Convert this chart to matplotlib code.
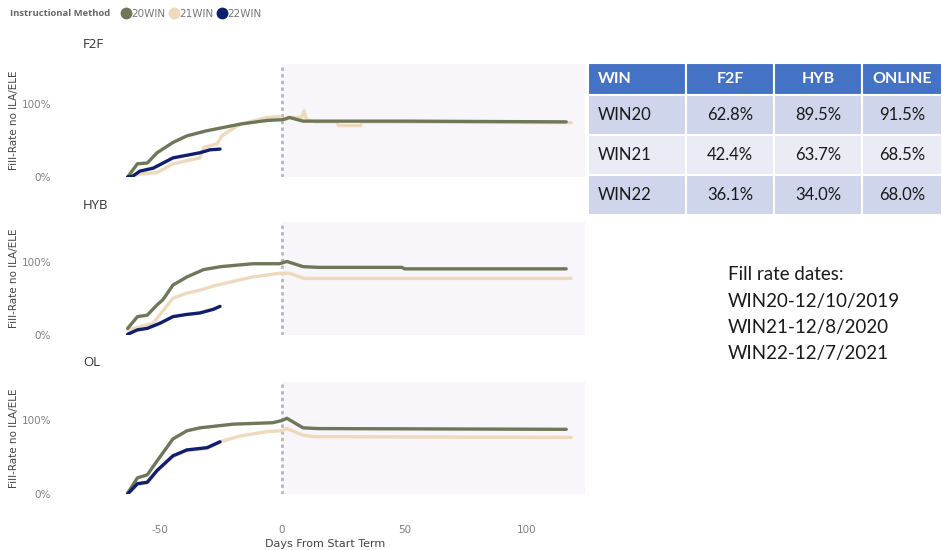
import matplotlib.pyplot as plt
from matplotlib.lines import Line2D
from matplotlib.patches import Rectangle

# colours
c20 = '#6f7759'
c21 = '#efd9bd'
c22 = '#0f1f6e'

terms = ['20WIN', '21WIN', '22WIN']
panels = ['F2F', 'HYB', 'OL']

# F2F
f2f_20_days = [-63, -59, -55, -51, -44.5, -38.8, -30.6, -20, -17, -6, 0.4, 3, 8.6, 50, 116]
f2f_20_vals = [0, 0.18, 0.19, 0.33, 0.47, 0.56, 0.63, 0.70, 0.72, 0.77, 0.78, 0.81, 0.76, 0.76, 0.75]
f2f_21_days = [-63, -58, -51, -44.5, -33.5, -32, -26.5, -24.5, -20, -17, -6, -1, 0.5, 3, 8, 9, 10, 13.5, 22.5, 23, 32, 32.7, 118]
f2f_21_vals = [0, 0.04, 0.06, 0.18, 0.26, 0.40, 0.45, 0.56, 0.66, 0.72, 0.81, 0.82, 0.77, 0.81, 0.81, 0.90, 0.78, 0.75, 0.75, 0.70, 0.70, 0.75, 0.74]
f2f_22_days = [-63, -61, -58, -52.6, -44.5, -33.5, -29.4, -25.3]
f2f_22_vals = [0, 0.01, 0.08, 0.12, 0.26, 0.33, 0.37, 0.38]

# HYB
hyb_20_days = [-63, -59, -55, -51, -48.6, -44.5, -38.8, -32, -25, -11.8, -1, 2, 8.6, 15, 49, 50, 116]
hyb_20_vals = [0.09, 0.25, 0.27, 0.41, 0.48, 0.68, 0.79, 0.89, 0.93, 0.97, 0.97, 1.00, 0.93, 0.92, 0.92, 0.90, 0.90]
hyb_21_days = [-63, -58, -52.6, -44.5, -38.8, -33.5, -26.5, -20, -11.8, -1, 3, 9, 118]
hyb_21_vals = [0.07, 0.11, 0.16, 0.50, 0.57, 0.61, 0.68, 0.73, 0.79, 0.84, 0.84, 0.77, 0.77]
hyb_22_days = [-63, -59, -55, -49.8, -44.5, -38.8, -33.5, -28, -25.3]
hyb_22_vals = [0.01, 0.07, 0.09, 0.16, 0.25, 0.28, 0.30, 0.35, 0.39]

# OL
ol_20_days = [-63, -59, -55, -51, -44.5, -38.8, -33.5, -20, -3.7, 0, 2, 8.6, 15, 116]
ol_20_vals = [0.01, 0.22, 0.26, 0.45, 0.75, 0.86, 0.90, 0.95, 0.97, 1.00, 1.03, 0.90, 0.89, 0.88]
ol_21_days = [-63, -59, -55, -51, -44.5, -38.8, -30.6, -25.3, -17, -6, 0, 2, 8.6, 13, 118]
ol_21_vals = [0, 0.13, 0.15, 0.31, 0.51, 0.59, 0.62, 0.71, 0.79, 0.85, 0.86, 0.89, 0.80, 0.78, 0.77]
ol_22_days = [-63, -59, -55, -51, -44.5, -38.8, -30.6, -25.3]
ol_22_vals = [0, 0.14, 0.16, 0.32, 0.52, 0.60, 0.63, 0.71]

series_days = [[f2f_20_days, f2f_21_days, f2f_22_days],
               [hyb_20_days, hyb_21_days, hyb_22_days],
               [ol_20_days, ol_21_days, ol_22_days]]
series_vals = [[f2f_20_vals, f2f_21_vals, f2f_22_vals],
               [hyb_20_vals, hyb_21_vals, hyb_22_vals],
               [ol_20_vals, ol_21_vals, ol_22_vals]]

# table
tbl_header = ['WIN', 'F2F', 'HYB', 'ONLINE']
tbl_rows = ['WIN20', 'WIN21', 'WIN22']
tbl_f2f = ['62.8%', '42.4%', '36.1%']
tbl_hyb = ['89.5%', '63.7%', '34.0%']
tbl_online = ['91.5%', '68.5%', '68.0%']

note_lines = ['Fill rate dates:', 'WIN20-12/10/2019', 'WIN21-12/8/2020', 'WIN22-12/7/2021']

W, H = 942, 550
fig = plt.figure(figsize=(9.42, 5.5), dpi=100)
plt.rcParams['font.family'] = ['DejaVu Sans']
plt.rcParams['axes.unicode_minus'] = False

def fx(px):
    return px / W

def fy(py):
    return 1 - py / H

# axes pixel boxes (top, bottom)
boxes = [(64, 177), (222, 335), (382, 494)]
title_y = [45, 205, 363]
xlim = ((65 - 282) / 2.45, (585 - 282) / 2.45)
cols = [c20, c21, c22]

for i, (top, bot) in enumerate(boxes):
    ax = fig.add_axes([fx(65), fy(bot), fx(520), (bot - top) / H])
    ax.set_xlim(xlim)
    ax.set_ylim(0, (bot - top) / 73.5)
    ax.axvspan(0, xlim[1], color='#f8f6fa', zorder=0, lw=0)
    ax.axvline(0, color='#b8b8b8', ls=(0, (1.2, 1.2)), lw=2, zorder=1)
    for j in [1, 0, 2]:
        ax.plot(series_days[i][j], series_vals[i][j], color=cols[j], lw=2.4,
                solid_capstyle='round', zorder=3)
    for s in ax.spines.values():
        s.set_visible(False)
    ax.set_yticks([0, 1])
    ax.set_yticklabels(['0%', '100%'])
    ax.tick_params(axis='y', length=0, labelsize=7.5, labelcolor='#808080', pad=10)
    ax.set_ylabel('Fill-Rate no ILA/ELE', fontsize=7.5, color='#444444', labelpad=10)
    ax.yaxis.set_label_coords(-0.088, 0.5)
    if i < 2:
        ax.set_xticks([])
    else:
        ax.set_xticks([-50, 0, 50, 100])
        ax.tick_params(axis='x', length=0, labelsize=7.5, labelcolor='#808080', pad=22)
        ax.set_xlabel('Days From Start Term', fontsize=8, color='#444444', labelpad=3)
    fig.text(fx(83), fy(title_y[i]), panels[i], fontsize=9.5, color='#333333', va='center',
             family=['Open Sans', 'DejaVu Sans'])

# legend
fig.text(fx(10), fy(14), 'Instructional Method', fontsize=6.8, fontweight='bold',
         color='#666666', va='center', family=['Open Sans', 'DejaVu Sans'])
handles = [Line2D([], [], ls='', marker='o', ms=7.5, color=c) for c in cols]
fig.legend(handles, terms, loc='center left', bbox_to_anchor=(fx(115), fy(14)), ncol=3,
           frameon=False, fontsize=7.5, handletextpad=-0.1, columnspacing=0.2,
           handlelength=1.2, borderpad=0, labelcolor='#777777')

# table
tax = fig.add_axes([0, 0, 1, 1])
tax.set_xlim(0, W)
tax.set_ylim(H, 0)
tax.axis('off')
col_edges = [588, 686, 774, 862, 942]
row_edges = [63, 95, 135, 175, 215]
fills = ['#4472c4', '#cfd5ea', '#e9ebf5', '#cfd5ea']
cells = [tbl_header] + [[tbl_rows[k], tbl_f2f[k], tbl_hyb[k], tbl_online[k]] for k in range(3)]
for r in range(4):
    for c in range(4):
        x0, x1 = col_edges[c], col_edges[c + 1]
        y0, y1 = row_edges[r], row_edges[r + 1]
        tax.add_patch(Rectangle((x0, y0), x1 - x0, y1 - y0, facecolor=fills[r],
                                edgecolor='white', lw=1.5))
        if c == 0:
            tx, ha = x0 + 10, 'left'
        else:
            tx, ha = (x0 + x1) / 2, 'center'
        tax.text(tx, (y0 + y1) / 2, cells[r][c], ha=ha, va='center',
                 fontsize=11.5 if r == 0 else 12,
                 fontweight='bold' if r == 0 else 'normal',
                 color='white' if r == 0 else '#1a1a1a', family=['Lato', 'DejaVu Sans'])

for k, line in enumerate(note_lines):
    tax.text(728, 275 + 26 * k, line, ha='left', va='center', fontsize=13.5,
             color='#1a1a1a', family=['Lato', 'DejaVu Sans'])

fig.savefig('out.png', dpi=100, facecolor='white')
